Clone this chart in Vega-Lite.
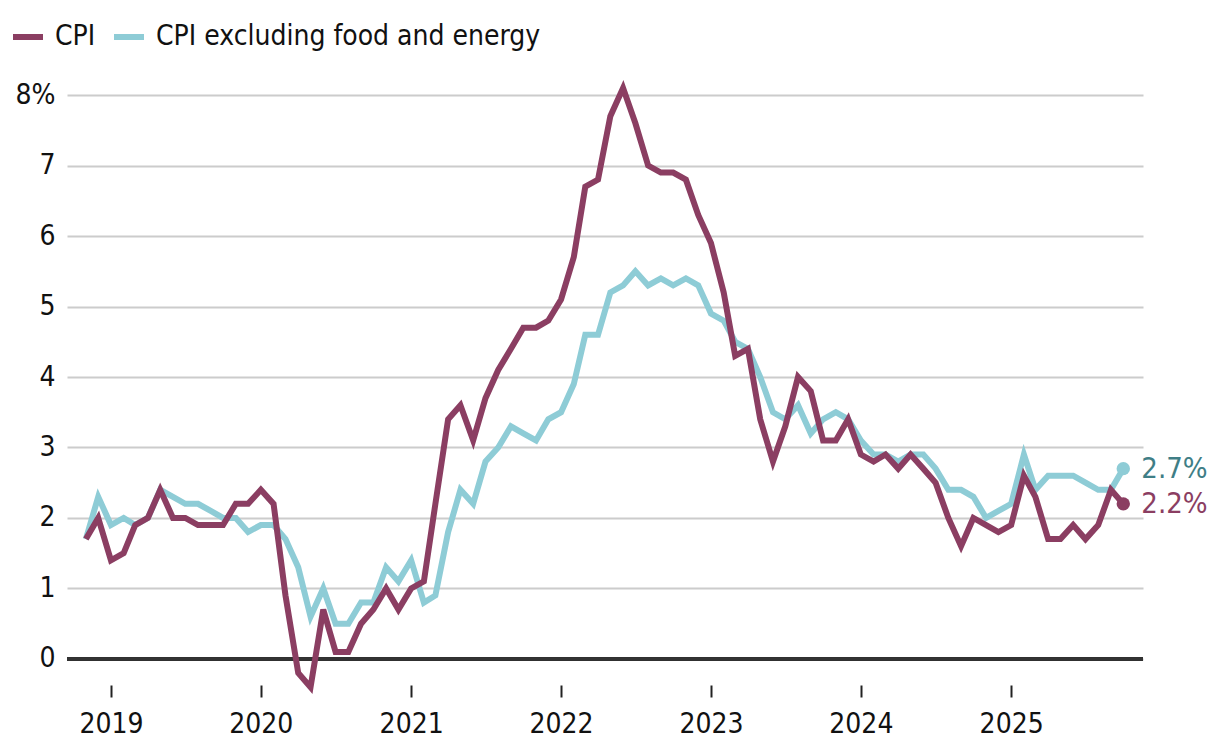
{
  "$schema": "https://vega.github.io/schema/vega-lite/v6.json",
  "width": 1076,
  "height": 604,
  "autosize": {"type": "none"},
  "padding": {"left": 67, "top": 81, "right": 77, "bottom": 69},
  "background": "white",
  "config": {
    "view": {"stroke": null},
    "font": "Liberation Sans Narrow, DejaVu Sans Condensed, Roboto, sans-serif"
  },
  "datasets": {
    "cpi": [
      {"date": "2018-11-01", "series": "CPI", "value": 1.7},
      {"date": "2018-12-01", "series": "CPI", "value": 2.0},
      {"date": "2019-01-01", "series": "CPI", "value": 1.4},
      {"date": "2019-02-01", "series": "CPI", "value": 1.5},
      {"date": "2019-03-01", "series": "CPI", "value": 1.9},
      {"date": "2019-04-01", "series": "CPI", "value": 2.0},
      {"date": "2019-05-01", "series": "CPI", "value": 2.4},
      {"date": "2019-06-01", "series": "CPI", "value": 2.0},
      {"date": "2019-07-01", "series": "CPI", "value": 2.0},
      {"date": "2019-08-01", "series": "CPI", "value": 1.9},
      {"date": "2019-09-01", "series": "CPI", "value": 1.9},
      {"date": "2019-10-01", "series": "CPI", "value": 1.9},
      {"date": "2019-11-01", "series": "CPI", "value": 2.2},
      {"date": "2019-12-01", "series": "CPI", "value": 2.2},
      {"date": "2020-01-01", "series": "CPI", "value": 2.4},
      {"date": "2020-02-01", "series": "CPI", "value": 2.2},
      {"date": "2020-03-01", "series": "CPI", "value": 0.9},
      {"date": "2020-04-01", "series": "CPI", "value": -0.2},
      {"date": "2020-05-01", "series": "CPI", "value": -0.4},
      {"date": "2020-06-01", "series": "CPI", "value": 0.7},
      {"date": "2020-07-01", "series": "CPI", "value": 0.1},
      {"date": "2020-08-01", "series": "CPI", "value": 0.1},
      {"date": "2020-09-01", "series": "CPI", "value": 0.5},
      {"date": "2020-10-01", "series": "CPI", "value": 0.7},
      {"date": "2020-11-01", "series": "CPI", "value": 1.0},
      {"date": "2020-12-01", "series": "CPI", "value": 0.7},
      {"date": "2021-01-01", "series": "CPI", "value": 1.0},
      {"date": "2021-02-01", "series": "CPI", "value": 1.1},
      {"date": "2021-03-01", "series": "CPI", "value": 2.2},
      {"date": "2021-04-01", "series": "CPI", "value": 3.4},
      {"date": "2021-05-01", "series": "CPI", "value": 3.6},
      {"date": "2021-06-01", "series": "CPI", "value": 3.1},
      {"date": "2021-07-01", "series": "CPI", "value": 3.7},
      {"date": "2021-08-01", "series": "CPI", "value": 4.1},
      {"date": "2021-09-01", "series": "CPI", "value": 4.4},
      {"date": "2021-10-01", "series": "CPI", "value": 4.7},
      {"date": "2021-11-01", "series": "CPI", "value": 4.7},
      {"date": "2021-12-01", "series": "CPI", "value": 4.8},
      {"date": "2022-01-01", "series": "CPI", "value": 5.1},
      {"date": "2022-02-01", "series": "CPI", "value": 5.7},
      {"date": "2022-03-01", "series": "CPI", "value": 6.7},
      {"date": "2022-04-01", "series": "CPI", "value": 6.8},
      {"date": "2022-05-01", "series": "CPI", "value": 7.7},
      {"date": "2022-06-01", "series": "CPI", "value": 8.1},
      {"date": "2022-07-01", "series": "CPI", "value": 7.6},
      {"date": "2022-08-01", "series": "CPI", "value": 7.0},
      {"date": "2022-09-01", "series": "CPI", "value": 6.9},
      {"date": "2022-10-01", "series": "CPI", "value": 6.9},
      {"date": "2022-11-01", "series": "CPI", "value": 6.8},
      {"date": "2022-12-01", "series": "CPI", "value": 6.3},
      {"date": "2023-01-01", "series": "CPI", "value": 5.9},
      {"date": "2023-02-01", "series": "CPI", "value": 5.2},
      {"date": "2023-03-01", "series": "CPI", "value": 4.3},
      {"date": "2023-04-01", "series": "CPI", "value": 4.4},
      {"date": "2023-05-01", "series": "CPI", "value": 3.4},
      {"date": "2023-06-01", "series": "CPI", "value": 2.8},
      {"date": "2023-07-01", "series": "CPI", "value": 3.3},
      {"date": "2023-08-01", "series": "CPI", "value": 4.0},
      {"date": "2023-09-01", "series": "CPI", "value": 3.8},
      {"date": "2023-10-01", "series": "CPI", "value": 3.1},
      {"date": "2023-11-01", "series": "CPI", "value": 3.1},
      {"date": "2023-12-01", "series": "CPI", "value": 3.4},
      {"date": "2024-01-01", "series": "CPI", "value": 2.9},
      {"date": "2024-02-01", "series": "CPI", "value": 2.8},
      {"date": "2024-03-01", "series": "CPI", "value": 2.9},
      {"date": "2024-04-01", "series": "CPI", "value": 2.7},
      {"date": "2024-05-01", "series": "CPI", "value": 2.9},
      {"date": "2024-06-01", "series": "CPI", "value": 2.7},
      {"date": "2024-07-01", "series": "CPI", "value": 2.5},
      {"date": "2024-08-01", "series": "CPI", "value": 2.0},
      {"date": "2024-09-01", "series": "CPI", "value": 1.6},
      {"date": "2024-10-01", "series": "CPI", "value": 2.0},
      {"date": "2024-11-01", "series": "CPI", "value": 1.9},
      {"date": "2024-12-01", "series": "CPI", "value": 1.8},
      {"date": "2025-01-01", "series": "CPI", "value": 1.9},
      {"date": "2025-02-01", "series": "CPI", "value": 2.6},
      {"date": "2025-03-01", "series": "CPI", "value": 2.3},
      {"date": "2025-04-01", "series": "CPI", "value": 1.7},
      {"date": "2025-05-01", "series": "CPI", "value": 1.7},
      {"date": "2025-06-01", "series": "CPI", "value": 1.9},
      {"date": "2025-07-01", "series": "CPI", "value": 1.7},
      {"date": "2025-08-01", "series": "CPI", "value": 1.9},
      {"date": "2025-09-01", "series": "CPI", "value": 2.4},
      {"date": "2025-10-01", "series": "CPI", "value": 2.2},
      {"date": "2018-11-01", "series": "CPI excluding food and energy", "value": 1.7},
      {"date": "2018-12-01", "series": "CPI excluding food and energy", "value": 2.3},
      {"date": "2019-01-01", "series": "CPI excluding food and energy", "value": 1.9},
      {"date": "2019-02-01", "series": "CPI excluding food and energy", "value": 2.0},
      {"date": "2019-03-01", "series": "CPI excluding food and energy", "value": 1.9},
      {"date": "2019-04-01", "series": "CPI excluding food and energy", "value": 2.0},
      {"date": "2019-05-01", "series": "CPI excluding food and energy", "value": 2.4},
      {"date": "2019-06-01", "series": "CPI excluding food and energy", "value": 2.3},
      {"date": "2019-07-01", "series": "CPI excluding food and energy", "value": 2.2},
      {"date": "2019-08-01", "series": "CPI excluding food and energy", "value": 2.2},
      {"date": "2019-09-01", "series": "CPI excluding food and energy", "value": 2.1},
      {"date": "2019-10-01", "series": "CPI excluding food and energy", "value": 2.0},
      {"date": "2019-11-01", "series": "CPI excluding food and energy", "value": 2.0},
      {"date": "2019-12-01", "series": "CPI excluding food and energy", "value": 1.8},
      {"date": "2020-01-01", "series": "CPI excluding food and energy", "value": 1.9},
      {"date": "2020-02-01", "series": "CPI excluding food and energy", "value": 1.9},
      {"date": "2020-03-01", "series": "CPI excluding food and energy", "value": 1.7},
      {"date": "2020-04-01", "series": "CPI excluding food and energy", "value": 1.3},
      {"date": "2020-05-01", "series": "CPI excluding food and energy", "value": 0.6},
      {"date": "2020-06-01", "series": "CPI excluding food and energy", "value": 1.0},
      {"date": "2020-07-01", "series": "CPI excluding food and energy", "value": 0.5},
      {"date": "2020-08-01", "series": "CPI excluding food and energy", "value": 0.5},
      {"date": "2020-09-01", "series": "CPI excluding food and energy", "value": 0.8},
      {"date": "2020-10-01", "series": "CPI excluding food and energy", "value": 0.8},
      {"date": "2020-11-01", "series": "CPI excluding food and energy", "value": 1.3},
      {"date": "2020-12-01", "series": "CPI excluding food and energy", "value": 1.1},
      {"date": "2021-01-01", "series": "CPI excluding food and energy", "value": 1.4},
      {"date": "2021-02-01", "series": "CPI excluding food and energy", "value": 0.8},
      {"date": "2021-03-01", "series": "CPI excluding food and energy", "value": 0.9},
      {"date": "2021-04-01", "series": "CPI excluding food and energy", "value": 1.8},
      {"date": "2021-05-01", "series": "CPI excluding food and energy", "value": 2.4},
      {"date": "2021-06-01", "series": "CPI excluding food and energy", "value": 2.2},
      {"date": "2021-07-01", "series": "CPI excluding food and energy", "value": 2.8},
      {"date": "2021-08-01", "series": "CPI excluding food and energy", "value": 3.0},
      {"date": "2021-09-01", "series": "CPI excluding food and energy", "value": 3.3},
      {"date": "2021-10-01", "series": "CPI excluding food and energy", "value": 3.2},
      {"date": "2021-11-01", "series": "CPI excluding food and energy", "value": 3.1},
      {"date": "2021-12-01", "series": "CPI excluding food and energy", "value": 3.4},
      {"date": "2022-01-01", "series": "CPI excluding food and energy", "value": 3.5},
      {"date": "2022-02-01", "series": "CPI excluding food and energy", "value": 3.9},
      {"date": "2022-03-01", "series": "CPI excluding food and energy", "value": 4.6},
      {"date": "2022-04-01", "series": "CPI excluding food and energy", "value": 4.6},
      {"date": "2022-05-01", "series": "CPI excluding food and energy", "value": 5.2},
      {"date": "2022-06-01", "series": "CPI excluding food and energy", "value": 5.3},
      {"date": "2022-07-01", "series": "CPI excluding food and energy", "value": 5.5},
      {"date": "2022-08-01", "series": "CPI excluding food and energy", "value": 5.3},
      {"date": "2022-09-01", "series": "CPI excluding food and energy", "value": 5.4},
      {"date": "2022-10-01", "series": "CPI excluding food and energy", "value": 5.3},
      {"date": "2022-11-01", "series": "CPI excluding food and energy", "value": 5.4},
      {"date": "2022-12-01", "series": "CPI excluding food and energy", "value": 5.3},
      {"date": "2023-01-01", "series": "CPI excluding food and energy", "value": 4.9},
      {"date": "2023-02-01", "series": "CPI excluding food and energy", "value": 4.8},
      {"date": "2023-03-01", "series": "CPI excluding food and energy", "value": 4.5},
      {"date": "2023-04-01", "series": "CPI excluding food and energy", "value": 4.4},
      {"date": "2023-05-01", "series": "CPI excluding food and energy", "value": 4.0},
      {"date": "2023-06-01", "series": "CPI excluding food and energy", "value": 3.5},
      {"date": "2023-07-01", "series": "CPI excluding food and energy", "value": 3.4},
      {"date": "2023-08-01", "series": "CPI excluding food and energy", "value": 3.6},
      {"date": "2023-09-01", "series": "CPI excluding food and energy", "value": 3.2},
      {"date": "2023-10-01", "series": "CPI excluding food and energy", "value": 3.4},
      {"date": "2023-11-01", "series": "CPI excluding food and energy", "value": 3.5},
      {"date": "2023-12-01", "series": "CPI excluding food and energy", "value": 3.4},
      {"date": "2024-01-01", "series": "CPI excluding food and energy", "value": 3.1},
      {"date": "2024-02-01", "series": "CPI excluding food and energy", "value": 2.9},
      {"date": "2024-03-01", "series": "CPI excluding food and energy", "value": 2.9},
      {"date": "2024-04-01", "series": "CPI excluding food and energy", "value": 2.8},
      {"date": "2024-05-01", "series": "CPI excluding food and energy", "value": 2.9},
      {"date": "2024-06-01", "series": "CPI excluding food and energy", "value": 2.9},
      {"date": "2024-07-01", "series": "CPI excluding food and energy", "value": 2.7},
      {"date": "2024-08-01", "series": "CPI excluding food and energy", "value": 2.4},
      {"date": "2024-09-01", "series": "CPI excluding food and energy", "value": 2.4},
      {"date": "2024-10-01", "series": "CPI excluding food and energy", "value": 2.3},
      {"date": "2024-11-01", "series": "CPI excluding food and energy", "value": 2.0},
      {"date": "2024-12-01", "series": "CPI excluding food and energy", "value": 2.1},
      {"date": "2025-01-01", "series": "CPI excluding food and energy", "value": 2.2},
      {"date": "2025-02-01", "series": "CPI excluding food and energy", "value": 2.9},
      {"date": "2025-03-01", "series": "CPI excluding food and energy", "value": 2.4},
      {"date": "2025-04-01", "series": "CPI excluding food and energy", "value": 2.6},
      {"date": "2025-05-01", "series": "CPI excluding food and energy", "value": 2.6},
      {"date": "2025-06-01", "series": "CPI excluding food and energy", "value": 2.6},
      {"date": "2025-07-01", "series": "CPI excluding food and energy", "value": 2.5},
      {"date": "2025-08-01", "series": "CPI excluding food and energy", "value": 2.4},
      {"date": "2025-09-01", "series": "CPI excluding food and energy", "value": 2.4},
      {"date": "2025-10-01", "series": "CPI excluding food and energy", "value": 2.7}
    ]
  },
  "data": {"name": "cpi", "format": {"parse": {"date": "date"}}},
  "layer": [
    {
      "mark": {"type": "rule", "color": "#333333", "strokeWidth": 2.5},
      "encoding": {
        "y": {
          "datum": 0,
          "type": "quantitative",
          "scale": {"domain": [-0.37, 8.2], "nice": false, "zero": false},
          "axis": {
            "values": [0, 1, 2, 3, 4, 5, 6, 7, 8],
            "grid": true,
            "gridColor": "#cccccc",
            "gridWidth": 2,
            "domain": false,
            "ticks": false,
            "labelFontSize": 28,
            "labelPadding": 12,
            "labelColor": "#111111",
            "labelExpr": "datum.value == 8 ? '8%' : format(datum.value, 'd')",
            "title": null
          }
        }
      }
    },
    {
      "transform": [{"filter": "datum.series == 'CPI excluding food and energy'"}],
      "mark": {"type": "line", "strokeWidth": 6, "strokeJoin": "miter"},
      "encoding": {
        "x": {
          "field": "date",
          "type": "temporal",
          "scale": {
            "type": "utc",
            "domain": [
              {"year": 2018, "month": 9, "date": 16, "utc": true},
              {"year": 2025, "month": 11, "date": 18, "utc": true}
            ]
          },
          "axis": {
            "values": [
              {"year": 2019, "month": 1, "date": 1, "utc": true},
              {"year": 2020, "month": 1, "date": 1, "utc": true},
              {"year": 2021, "month": 1, "date": 1, "utc": true},
              {"year": 2022, "month": 1, "date": 1, "utc": true},
              {"year": 2023, "month": 1, "date": 1, "utc": true},
              {"year": 2024, "month": 1, "date": 1, "utc": true},
              {"year": 2025, "month": 1, "date": 1, "utc": true}
            ],
            "format": "%Y",
            "domain": false,
            "grid": false,
            "tickSize": 12,
            "tickWidth": 2,
            "tickColor": "#222222",
            "labelFontSize": 28,
            "labelPadding": 13,
            "labelColor": "#111111",
            "title": null
          }
        },
        "y": {"field": "value", "type": "quantitative"},
        "color": {
          "field": "series",
          "type": "nominal",
          "scale": {
            "domain": ["CPI", "CPI excluding food and energy"],
            "range": ["#8B3E62", "#8ECCD6"]
          },
          "legend": {
            "orient": "none",
            "legendX": -57,
            "legendY": -62,
            "direction": "horizontal",
            "title": null,
            "symbolType": "stroke",
            "symbolStrokeWidth": 6,
            "symbolSize": 900,
            "labelFontSize": 28,
            "labelOffset": 9,
            "labelLimit": 0,
            "columnPadding": 6,
            "labelColor": "#111111"
          }
        }
      }
    },
    {
      "transform": [{"filter": "datum.series == 'CPI'"}],
      "mark": {"type": "line", "strokeWidth": 6, "strokeJoin": "miter"},
      "encoding": {
        "x": {"field": "date", "type": "temporal"},
        "y": {"field": "value", "type": "quantitative"},
        "color": {"field": "series", "type": "nominal"}
      }
    },
    {
      "transform": [{"filter": "utcyear(datum.date) == 2025 && utcmonth(datum.date) == 9"}],
      "mark": {"type": "point", "filled": true, "opacity": 1, "size": 180, "shape": "circle"},
      "encoding": {
        "x": {"field": "date", "type": "temporal"},
        "y": {"field": "value", "type": "quantitative"},
        "color": {"field": "series", "type": "nominal"}
      }
    },
    {
      "transform": [
        {"filter": "utcyear(datum.date) == 2025 && utcmonth(datum.date) == 9 && datum.series == 'CPI'"},
        {"calculate": "format(datum.value, '.1f') + '%'", "as": "label"}
      ],
      "mark": {"type": "text", "align": "left", "baseline": "middle", "dx": 18, "fontSize": 29, "color": "#8B3E62"},
      "encoding": {
        "x": {"field": "date", "type": "temporal"},
        "y": {"field": "value", "type": "quantitative"},
        "text": {"field": "label", "type": "nominal"}
      }
    },
    {
      "transform": [
        {"filter": "utcyear(datum.date) == 2025 && utcmonth(datum.date) == 9 && datum.series != 'CPI'"},
        {"calculate": "format(datum.value, '.1f') + '%'", "as": "label"}
      ],
      "mark": {"type": "text", "align": "left", "baseline": "middle", "dx": 18, "fontSize": 29, "color": "#3F7E86"},
      "encoding": {
        "x": {"field": "date", "type": "temporal"},
        "y": {"field": "value", "type": "quantitative"},
        "text": {"field": "label", "type": "nominal"}
      }
    }
  ]
}
